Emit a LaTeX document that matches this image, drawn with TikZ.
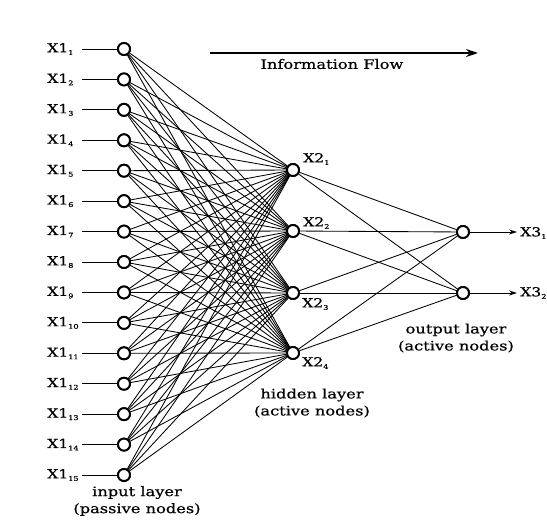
\documentclass[tikz,border=0pt]{standalone}
\usepackage{fontspec}
\setmainfont{DejaVu Serif}[FakeStretch=1.25,FakeBold=0.6]
\usetikzlibrary{arrows.meta}
\newcommand{\sbs}[1]{\raisebox{-2.5pt}{\fontsize{6.5}{7}\selectfont #1}}
\begin{document}
\begin{tikzpicture}[x=1pt,y=-1pt,
  neuron/.style={circle,draw,line width=1.9pt,minimum size=12pt,inner sep=0pt,fill=white},
  conn/.style={line width=0.85pt},
  lbl/.style={font=\fontsize{12.5}{14}\selectfont,inner sep=0pt},
  captxt/.style={font=\fontsize{13}{17}\selectfont,align=center,inner sep=0pt}]
\useasboundingbox[fill=white] (0,0) rectangle (547,521);
% input layer
\foreach \i in {1,...,15} {
  \pgfmathsetmacro{\yy}{49+(\i-1)*30.43}
  \node[neuron] (i\i) at (124,\yy) {};
  \node[lbl,anchor=west] (li\i) at (47,\yy) {X1\sbs{\i}};
  \coordinate (s\i) at (82,\yy);
}
% hidden layer
\foreach \j/\yy in {1/170,2/231,3/293,4/353} {
  \node[neuron] (h\j) at (293,\yy) {};
}
% output layer
\node[neuron] (o1) at (463,232) {};
\node[neuron] (o2) at (463,293) {};
\coordinate (e1) at (517,232);
\coordinate (e2) at (517,293);
% connections
\foreach \i in {1,...,15} {
  \draw[conn] (s\i) -- (i\i);
  \foreach \j in {1,...,4} { \draw[conn] (i\i) -- (h\j); }
}
\foreach \j in {1,...,4} { \foreach \k in {1,2} { \draw[conn] (h\j) -- (o\k); } }
% redraw nodes on top
\foreach \i in {1,...,15} { \node[neuron] at (i\i) {}; }
\foreach \j in {1,...,4} { \node[neuron] at (h\j) {}; }
\node[neuron] at (o1) {};
\node[neuron] at (o2) {};
% output arrows
\draw[conn,-{Stealth[length=8pt,width=5pt]}] (o1) -- (e1);
\draw[conn,-{Stealth[length=8pt,width=5pt]}] (o2) -- (e2);
\node[lbl,anchor=west] (lo1) at (520,233) {X3\sbs{1}};
\node[lbl,anchor=west] (lo2) at (520,293) {X3\sbs{2}};
% hidden labels
\node[lbl,anchor=west] (lh1) at (303,159) {X2\sbs{1}};
\node[lbl,anchor=west] (lh2) at (303,223) {X2\sbs{2}};
\node[lbl,anchor=west] (lh3) at (302,304) {X2\sbs{3}};
\node[lbl,anchor=west] (lh4) at (302,363) {X2\sbs{4}};
% information flow
\coordinate (fa) at (210,53);
\coordinate (fb) at (478,53);
\draw[line width=2.2pt,-{Stealth[length=12pt,width=8pt]}] (fa) -- (fb);
\node[captxt] (flow) at (332,64) {Information Flow};
% captions
\node[captxt] (cin) at (137,501) {input layer\\(passive nodes)};
\node[captxt] (chid) at (312,403) {hidden layer\\(active nodes)};
\node[captxt] (cout) at (456,338) {output layer\\(active nodes)};
\end{tikzpicture}
\end{document}
